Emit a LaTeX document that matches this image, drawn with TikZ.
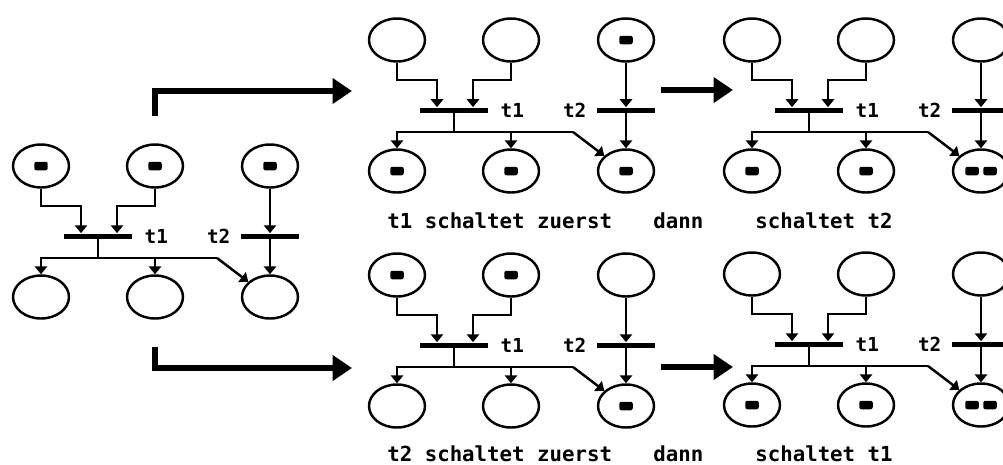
\documentclass[tikz,border=0pt]{standalone}
\usepackage{fontspec}
\setmonofont{DejaVu Sans Mono}
\usetikzlibrary{shapes.geometric,arrows.meta,positioning}

\begin{document}
\begin{tikzpicture} [
        x=0.02cm, y=-0.02cm,
        place/.style = {ellipse,draw,line width=1.4pt,minimum width=1.12cm,minimum height=0.86cm,inner sep=0pt},
        token/.style = {rectangle,rounded corners=1.2pt,fill=black,minimum width=0.27cm,minimum height=0.17cm,inner sep=0pt},
        bar/.style = {rectangle,fill=black,minimum height=0.1cm,inner sep=0pt},
        wire/.style = {draw,line width=1.4pt},
        arc/.style = {wire,-{Triangle[length=4.5pt,width=7pt]}},
        tname/.style = {font=\ttfamily\bfseries\fontsize{11}{12}\selectfont,inner sep=0pt},
        note/.style = {font=\ttfamily\bfseries\fontsize{11.8}{13}\selectfont,inner sep=0pt,anchor=base west},
        bigarrow/.style = {draw,line width=3.4pt,-{Triangle[length=11pt,width=14pt]}},
    ]
    \useasboundingbox (0,0) rectangle (1003,464);
    % the five nets: name, first place, marked places
    \foreach \n/\x/\y/\marks in {
            A/41/166/{p1/0,p2/0,p3/0},
            B/397/40/{p3/0,q1/0,q2/0,q3/0},
            C/752/40/{q1/0,q2/0,q3/-9,q3/9},
            D/397/275/{p1/0,p2/0,q3/0},
            E/752/274/{q1/0,q2/0,q3/-9,q3/9}} {
        \begin{scope}[shift={(\x,\y)}]
            % First the places
            \foreach \pos/\pl in {
                    {(0,0)/p1}, {(114,0)/p2}, {(229,0)/p3},
                    {(0,131)/q1}, {(114,131)/q2}, {(229,131)/q3}}
                \node[place] (\n-\pl) at \pos {};
            % transitions with their names
            \node[bar,minimum width=1.36cm] (\n-t1) at (57,70) {};
            \node[bar,minimum width=1.16cm] (\n-t2) at (229,70) {};
            \node[tname,right=0.24cm of \n-t1] (\n-l1) {t1};
            \node[tname,left=0.2cm of \n-t2] (\n-l2) {t2};
            % bends of the arcs
            \coordinate (\n-e1) at (40,40);
            \coordinate (\n-e2) at (76,40);
            \coordinate (\n-o) at (57,92);
            \coordinate (\n-k) at (176,92);
            % arcs into t1 and out of it
            \path[arc] (\n-p1.south) |- (\n-e1) -- (\n-e1 |- \n-t1.north);
            \path[arc] (\n-p2.south) |- (\n-e2) -- (\n-e2 |- \n-t1.north);
            \path[wire] (\n-t1.south) -- (\n-o);
            \path[arc] (\n-k) -| (\n-q1.north);
            \path[arc] (\n-q2.north |- \n-o) -- (\n-q2.north);
            \path[arc] (\n-k) -- (\n-q3.145);
            % t2
            \path[arc] (\n-p3) -- (\n-t2.north);
            \path[arc] (\n-t2) -- (\n-q3);
            % marks
            \foreach \pl/\dx [count=\i] in \marks
                \node[token] (\n-m\i) at ([xshift=\dx*0.02cm]\n-\pl) {};
        \end{scope}
    }
    % which transition fires first
    \coordinate (up-from) at (155,116);
    \coordinate (up-to) at (352,91);
    \coordinate (down-from) at (155,347);
    \coordinate (down-to) at (352,368);
    \path[bigarrow] (up-from) |- (up-to);
    \path[bigarrow] (down-from) |- (down-to);
    \foreach \name/\y in {upper/90, lower/367} {
        \coordinate (\name-from) at (661,\y);
        \coordinate (\name-to) at (733,\y);
        \path[bigarrow] (\name-from) -- (\name-to);
    }
    % captions
    \node[note] (first1) at (387,228) {t1 schaltet zuerst};
    \node[note] (then1) at (653,228) {dann};
    \node[note] (second1) at (755,228) {schaltet t2};
    \node[note] (first2) at (387,461) {t2 schaltet zuerst};
    \node[note] (then2) at (653,461) {dann};
    \node[note] (second2) at (755,461) {schaltet t1};
\end{tikzpicture}
\end{document}
